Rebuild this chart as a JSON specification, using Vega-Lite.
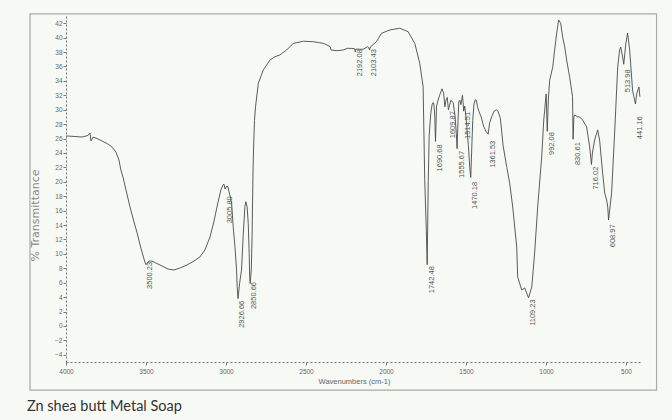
{
  "$schema": "https://vega.github.io/schema/vega-lite/v6.json",
  "width": 576,
  "height": 346,
  "autosize": "none",
  "padding": {"left": 66, "top": 16, "right": 30, "bottom": 58},
  "background": "#f7f9f5",
  "config": {"view": {"stroke": null}, "font": "Liberation Sans", "axis": {"labelOverlap": false, "labelFlush": false}},
  "title": {"text": "Zn shea butt Metal Soap", "orient": "bottom", "anchor": "start", "frame": "group", "font": "Lato", "fontSize": 14.5, "fontWeight": "normal", "color": "#333333", "dx": -39, "offset": 9},
  "datasets": {
    "spectrum": [
      {"wn": 4000, "T": 26.35}, {"wn": 3987, "T": 26.35}, {"wn": 3944, "T": 26.28}, {"wn": 3900, "T": 26.21}, {"wn": 3863, "T": 26.42}, {"wn": 3850, "T": 26.77}, {"wn": 3844, "T": 25.66}, {"wn": 3831, "T": 26.2}, {"wn": 3806, "T": 26.0}, {"wn": 3769, "T": 25.6}, {"wn": 3738, "T": 25.24}, {"wn": 3713, "T": 24.83}, {"wn": 3688, "T": 24.13}, {"wn": 3669, "T": 23.02}, {"wn": 3657, "T": 21.64}, {"wn": 3644, "T": 20.66}, {"wn": 3625, "T": 18.86}, {"wn": 3600, "T": 16.5}, {"wn": 3575, "T": 14.42}, {"wn": 3557, "T": 13.03}, {"wn": 3532, "T": 10.81}, {"wn": 3507, "T": 8.87}, {"wn": 3500, "T": 8.5}, {"wn": 3482, "T": 9.0}, {"wn": 3463, "T": 9.0}, {"wn": 3438, "T": 8.73}, {"wn": 3400, "T": 8.32}, {"wn": 3363, "T": 7.9}, {"wn": 3325, "T": 7.76}, {"wn": 3288, "T": 8.04}, {"wn": 3244, "T": 8.46}, {"wn": 3200, "T": 9.01}, {"wn": 3163, "T": 9.57}, {"wn": 3132, "T": 10.54}, {"wn": 3100, "T": 12.34}, {"wn": 3076, "T": 14.42}, {"wn": 3051, "T": 17.06}, {"wn": 3032, "T": 18.86}, {"wn": 3019, "T": 19.55}, {"wn": 3013, "T": 19.7}, {"wn": 3006, "T": 19.0}, {"wn": 2994, "T": 19.42}, {"wn": 2988, "T": 19.28}, {"wn": 2976, "T": 18.17}, {"wn": 2965, "T": 17.06}, {"wn": 2955, "T": 13.77}, {"wn": 2944, "T": 11.0}, {"wn": 2934, "T": 7.76}, {"wn": 2930, "T": 5.45}, {"wn": 2925, "T": 3.8}, {"wn": 2915, "T": 5.9}, {"wn": 2903, "T": 7.76}, {"wn": 2893, "T": 12.38}, {"wn": 2882, "T": 16.54}, {"wn": 2876, "T": 17.24}, {"wn": 2868, "T": 16.54}, {"wn": 2861, "T": 14.24}, {"wn": 2855, "T": 10.08}, {"wn": 2852, "T": 6.83}, {"wn": 2849, "T": 5.9}, {"wn": 2842, "T": 7.76}, {"wn": 2837, "T": 12.38}, {"wn": 2834, "T": 17.06}, {"wn": 2831, "T": 21.64}, {"wn": 2828, "T": 24.4}, {"wn": 2822, "T": 28.5}, {"wn": 2815, "T": 30.5}, {"wn": 2798, "T": 33.66}, {"wn": 2767, "T": 35.5}, {"wn": 2725, "T": 36.9}, {"wn": 2694, "T": 37.35}, {"wn": 2663, "T": 37.6}, {"wn": 2621, "T": 38.28}, {"wn": 2580, "T": 39.2}, {"wn": 2515, "T": 39.5}, {"wn": 2453, "T": 39.43}, {"wn": 2390, "T": 39.2}, {"wn": 2348, "T": 38.74}, {"wn": 2344, "T": 38.28}, {"wn": 2306, "T": 38.19}, {"wn": 2268, "T": 38.28}, {"wn": 2240, "T": 38.52}, {"wn": 2214, "T": 38.5}, {"wn": 2195, "T": 38.45}, {"wn": 2192, "T": 38.0}, {"wn": 2188, "T": 38.4}, {"wn": 2143, "T": 38.38}, {"wn": 2115, "T": 38.74}, {"wn": 2108, "T": 38.6}, {"wn": 2103, "T": 38.3}, {"wn": 2098, "T": 38.7}, {"wn": 2060, "T": 39.43}, {"wn": 2028, "T": 40.6}, {"wn": 1976, "T": 41.06}, {"wn": 1914, "T": 41.3}, {"wn": 1862, "T": 40.82}, {"wn": 1820, "T": 39.2}, {"wn": 1789, "T": 36.44}, {"wn": 1768, "T": 33.2}, {"wn": 1758, "T": 20.3}, {"wn": 1748, "T": 13.3}, {"wn": 1742.5, "T": 8.5}, {"wn": 1736, "T": 20.0}, {"wn": 1730, "T": 26.5}, {"wn": 1720, "T": 29.5}, {"wn": 1712, "T": 30.7}, {"wn": 1705, "T": 31.0}, {"wn": 1700, "T": 30.6}, {"wn": 1695, "T": 29.0}, {"wn": 1690.7, "T": 25.6}, {"wn": 1684, "T": 30.5}, {"wn": 1676, "T": 31.2}, {"wn": 1665, "T": 32.0}, {"wn": 1650, "T": 32.9}, {"wn": 1640, "T": 32.3}, {"wn": 1632, "T": 30.4}, {"wn": 1625, "T": 31.35}, {"wn": 1617, "T": 31.7}, {"wn": 1610, "T": 30.0}, {"wn": 1595, "T": 31.3}, {"wn": 1580, "T": 31.0}, {"wn": 1568, "T": 29.0}, {"wn": 1560, "T": 26.5}, {"wn": 1555.7, "T": 24.6}, {"wn": 1550, "T": 28.5}, {"wn": 1545, "T": 31.1}, {"wn": 1538, "T": 31.3}, {"wn": 1532, "T": 30.7}, {"wn": 1527, "T": 31.4}, {"wn": 1522, "T": 32.0}, {"wn": 1518, "T": 31.0}, {"wn": 1514.5, "T": 29.8}, {"wn": 1508, "T": 30.5}, {"wn": 1500, "T": 29.0}, {"wn": 1485, "T": 25.0}, {"wn": 1475, "T": 21.5}, {"wn": 1470.2, "T": 20.6}, {"wn": 1465, "T": 24.0}, {"wn": 1458, "T": 28.5}, {"wn": 1450, "T": 30.8}, {"wn": 1442, "T": 31.4}, {"wn": 1435, "T": 31.3}, {"wn": 1428, "T": 30.4}, {"wn": 1420, "T": 29.8}, {"wn": 1405, "T": 29.0}, {"wn": 1390, "T": 27.7}, {"wn": 1375, "T": 27.0}, {"wn": 1361.5, "T": 26.6}, {"wn": 1352, "T": 28.2}, {"wn": 1340, "T": 29.0}, {"wn": 1325, "T": 29.8}, {"wn": 1310, "T": 30.0}, {"wn": 1300, "T": 29.8}, {"wn": 1285, "T": 28.8}, {"wn": 1268, "T": 25.0}, {"wn": 1245, "T": 22.0}, {"wn": 1227, "T": 19.8}, {"wn": 1208, "T": 16.5}, {"wn": 1183, "T": 10.95}, {"wn": 1177, "T": 6.8}, {"wn": 1152, "T": 5.0}, {"wn": 1133, "T": 5.27}, {"wn": 1121, "T": 4.57}, {"wn": 1109.2, "T": 3.9}, {"wn": 1089, "T": 5.4}, {"wn": 1071, "T": 10.12}, {"wn": 1052, "T": 16.5}, {"wn": 1027, "T": 23.44}, {"wn": 1014, "T": 28.57}, {"wn": 1008, "T": 29.96}, {"wn": 999, "T": 32.2}, {"wn": 992.1, "T": 27.0}, {"wn": 985, "T": 31.5}, {"wn": 977, "T": 34.1}, {"wn": 958, "T": 35.9}, {"wn": 946, "T": 38.3}, {"wn": 933, "T": 40.64}, {"wn": 921, "T": 42.45}, {"wn": 908, "T": 42.0}, {"wn": 896, "T": 40.1}, {"wn": 883, "T": 38.7}, {"wn": 871, "T": 36.9}, {"wn": 852, "T": 34.5}, {"wn": 840, "T": 32.7}, {"wn": 834, "T": 31.8}, {"wn": 830.6, "T": 25.9}, {"wn": 826, "T": 29.0}, {"wn": 821, "T": 29.27}, {"wn": 802, "T": 29.0}, {"wn": 790, "T": 29.0}, {"wn": 771, "T": 28.57}, {"wn": 746, "T": 27.6}, {"wn": 727, "T": 24.83}, {"wn": 716, "T": 22.4}, {"wn": 710, "T": 24.0}, {"wn": 696, "T": 25.8}, {"wn": 677, "T": 27.2}, {"wn": 665, "T": 25.8}, {"wn": 646, "T": 21.2}, {"wn": 633, "T": 18.44}, {"wn": 621, "T": 17.47}, {"wn": 614, "T": 16.5}, {"wn": 609, "T": 14.7}, {"wn": 590, "T": 18.44}, {"wn": 571, "T": 26.77}, {"wn": 552, "T": 35.9}, {"wn": 540, "T": 38.3}, {"wn": 533, "T": 38.7}, {"wn": 521, "T": 37.3}, {"wn": 514, "T": 36.3}, {"wn": 502, "T": 39.0}, {"wn": 490, "T": 40.64}, {"wn": 477, "T": 38.3}, {"wn": 459, "T": 32.7}, {"wn": 441, "T": 30.8}, {"wn": 432, "T": 32.3}, {"wn": 419, "T": 33.15}, {"wn": 413, "T": 31.8}
    ],
    "peaks": [
      {"wn": 3500.23, "T": 8.9, "label": "3500.23"},
      {"wn": 3005.80, "T": 18.0, "label": "3005.80"},
      {"wn": 2926.66, "T": 3.5, "label": "2926.66"},
      {"wn": 2850.66, "T": 6.1, "label": "2850.66"},
      {"wn": 2192.08, "T": 38.4, "label": "2192.08"},
      {"wn": 2103.43, "T": 38.4, "label": "2103.43"},
      {"wn": 1742.48, "T": 8.3, "label": "1742.48"},
      {"wn": 1690.68, "T": 25.2, "label": "1690.68"},
      {"wn": 1609.87, "T": 29.8, "label": "1609.87"},
      {"wn": 1555.67, "T": 24.3, "label": "1555.67"},
      {"wn": 1514.51, "T": 29.7, "label": "1514.51"},
      {"wn": 1470.18, "T": 20.0, "label": "1470.18"},
      {"wn": 1361.53, "T": 25.7, "label": "1361.53"},
      {"wn": 1109.23, "T": 3.7, "label": "1109.23"},
      {"wn": 992.08, "T": 26.9, "label": "992.08"},
      {"wn": 830.61, "T": 25.5, "label": "830.61"},
      {"wn": 716.02, "T": 22.1, "label": "716.02"},
      {"wn": 608.97, "T": 14.1, "label": "608.97"},
      {"wn": 513.98, "T": 35.6, "label": "513.98"},
      {"wn": 441.16, "T": 29.1, "label": "441.16"}
    ]
  },
  "layer": [
    {
      "data": {"name": "spectrum"},
      "mark": {"type": "line", "stroke": "#4a4a4a", "strokeWidth": 0.9, "interpolate": "linear"},
      "encoding": {
        "x": {
          "field": "wn", "type": "quantitative",
          "scale": {"domain": [4000, 400], "zero": false, "nice": false},
          "axis": {
            "title": "Wavenumbers (cm-1)",
            "values": [4000, 3500, 3000, 2500, 2000, 1500, 1000, 500],
            "tickCount": 20,
            "format": "d",
            "grid": false,
            "labelFlush": false, "labelOverlap": false,
            "labelFontSize": 6.5, "labelColor": "#666666", "labelPadding": 3,
            "tickSize": 3, "tickColor": "#777777",
            "domainColor": "#777777", "domainDash": [2, 2],
            "titleFontSize": 7.5, "titleFontWeight": "normal", "titleColor": "#666666", "titlePadding": 3
          }
        },
        "y": {
          "field": "T", "type": "quantitative",
          "scale": {"domain": [-5, 43], "zero": false, "nice": false},
          "axis": {
            "title": "% Transmittance",
            "values": [-4, -2, 0, 2, 4, 6, 8, 10, 12, 14, 16, 18, 20, 22, 24, 26, 28, 30, 32, 34, 36, 38, 40, 42],
            "tickCount": 40,
            "format": "d",
            "grid": false,
            "labelFlush": false, "labelOverlap": false,
            "labelFontSize": 6.5, "labelColor": "#666666", "labelPadding": 1, "labelBaseline": "middle",
            "tickSize": 3, "tickColor": "#777777",
            "domainColor": "#777777", "domainDash": [2, 2],
            "titleFontSize": 11, "titleFont": "DejaVu Sans", "titleFontWeight": "normal", "titleColor": "#888888",
            "titleAngle": 270, "titleX": -31, "titleY": 199, "titleAlign": "center", "titleBaseline": "middle"
          }
        }
      }
    },
    {
      "data": {"name": "peaks"},
      "mark": {"type": "text", "angle": 270, "align": "right", "baseline": "middle", "dy": 4.5, "fontSize": 7.5, "color": "#555555"},
      "encoding": {
        "x": {"field": "wn", "type": "quantitative"},
        "y": {"field": "T", "type": "quantitative"},
        "text": {"field": "label", "type": "nominal"}
      }
    },
    {
      "data": {"values": [{"frame": "outer"}]},
      "mark": {"type": "rect", "fill": null, "stroke": "#a8aaa6", "strokeWidth": 1.2, "clip": false},
      "encoding": {
        "x": {"datum": 4225, "type": "quantitative"},
        "x2": {"datum": 309},
        "y": {"datum": 43.3, "type": "quantitative"},
        "y2": {"datum": -8.9}
      }
    }
  ]
}
